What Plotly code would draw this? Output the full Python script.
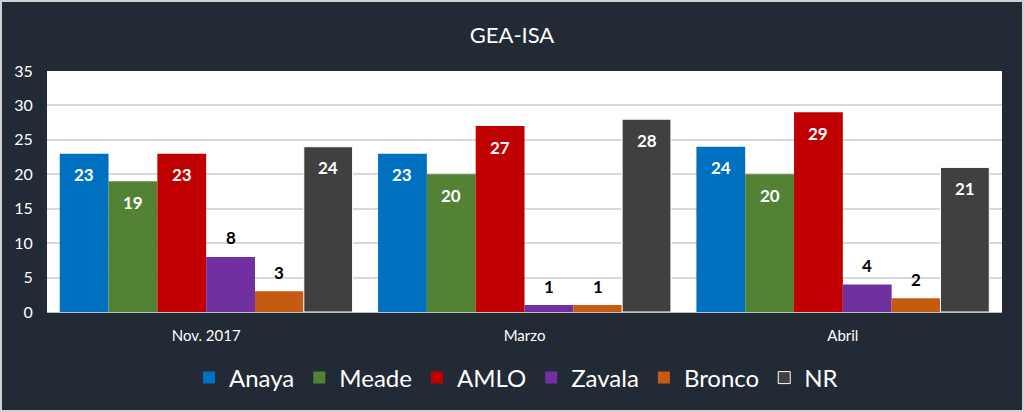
import plotly.graph_objects as go

categories = ["Nov. 2017", "Marzo", "Abril"]
series_names = ["Anaya", "Meade", "AMLO", "Zavala", "Bronco", "NR"]
anaya = [23, 23, 24]
meade = [19, 20, 20]
amlo = [23, 27, 29]
zavala = [8, 1, 4]
bronco = [3, 1, 2]
nr = [24, 28, 21]
y_ticks = [0, 5, 10, 15, 20, 25, 30, 35]

values = [anaya, meade, amlo, zavala, bronco, nr]
colors = ["#0070c0", "#548235", "#c00000", "#7030a0", "#c55a11", "#404040"]
inside = [True, True, True, False, False, True]
BG = "#222a35"
FONT = "Lato, Calibri, Carlito, sans-serif"

L, R, T, B = 47, 22, 71, 100
W, H = 1024, 412
pw = W - L - R
ph = H - T - B
BARGAP = 0.08
n_series = len(series_names)
bar_px = pw / len(categories) * (1 - BARGAP) / n_series

fig = go.Figure()
annotations = []
for i, (name, vals, col, ins) in enumerate(zip(series_names, values, colors, inside)):
    fig.add_trace(go.Bar(
        name=name, x=categories, y=vals,
        marker=dict(color=col, line=dict(color="white", width=1 if name == "NR" else 0)),
        hoverinfo="skip",
    ))
    for c, v in zip(categories, vals):
        annotations.append(dict(
            x=c, y=v, xref="x", yref="y", text=str(v), showarrow=False,
            xshift=(i - (n_series - 1) / 2) * bar_px,
            yshift=-21 if ins else 19, yanchor="middle",
            font=dict(family=FONT, size=17, color="white" if ins else "black", weight="bold"),
        ))

fig.add_shape(type="rect", xref="paper", yref="paper",
              x0=-(L - 1) / pw, x1=1 + (R - 1) / pw,
              y0=-(B - 1) / ph, y1=1 + (T - 1) / ph,
              line=dict(color="#d0d0d0", width=2), fillcolor="rgba(0,0,0,0)", layer="below")

fig.update_layout(
    width=W, height=H,
    margin=dict(l=L, r=R, t=T, b=B),
    paper_bgcolor=BG, plot_bgcolor="white",
    barmode="group", bargap=BARGAP, bargroupgap=0,
    annotations=annotations,
    title=dict(text="GEA-ISA", x=0.5, xanchor="center", y=1 - 35 / H, yanchor="middle",
               font=dict(family=FONT, size=22, color="white")),
    font=dict(family=FONT, color="white"),
    legend=dict(orientation="h", x=(516 - L) / pw, xanchor="center", y=-(378 - 312) / ph, yanchor="middle",
                font=dict(family=FONT, size=24, color="white"), bgcolor="rgba(0,0,0,0)",
                itemclick=False, itemdoubleclick=False),
    xaxis=dict(showgrid=False, ticks="outside", ticklen=10, tickcolor="rgba(0,0,0,0)",
               tickfont=dict(family=FONT, size=15, color="white"), showline=True,
               linecolor="#bfbfbf", linewidth=1),
    yaxis=dict(range=[0, 35], tickvals=y_ticks, showgrid=True, gridcolor="#d9d9d9", gridwidth=1.5,
               zeroline=False, ticks="outside", ticklen=10, tickcolor="rgba(0,0,0,0)",
               tickfont=dict(family=FONT, size=16, color="white")),
)

fig.write_html("out.html", config={"displayModeBar": False},
               post_script="document.body.style.margin='0';document.body.style.background='%s';" % BG)
